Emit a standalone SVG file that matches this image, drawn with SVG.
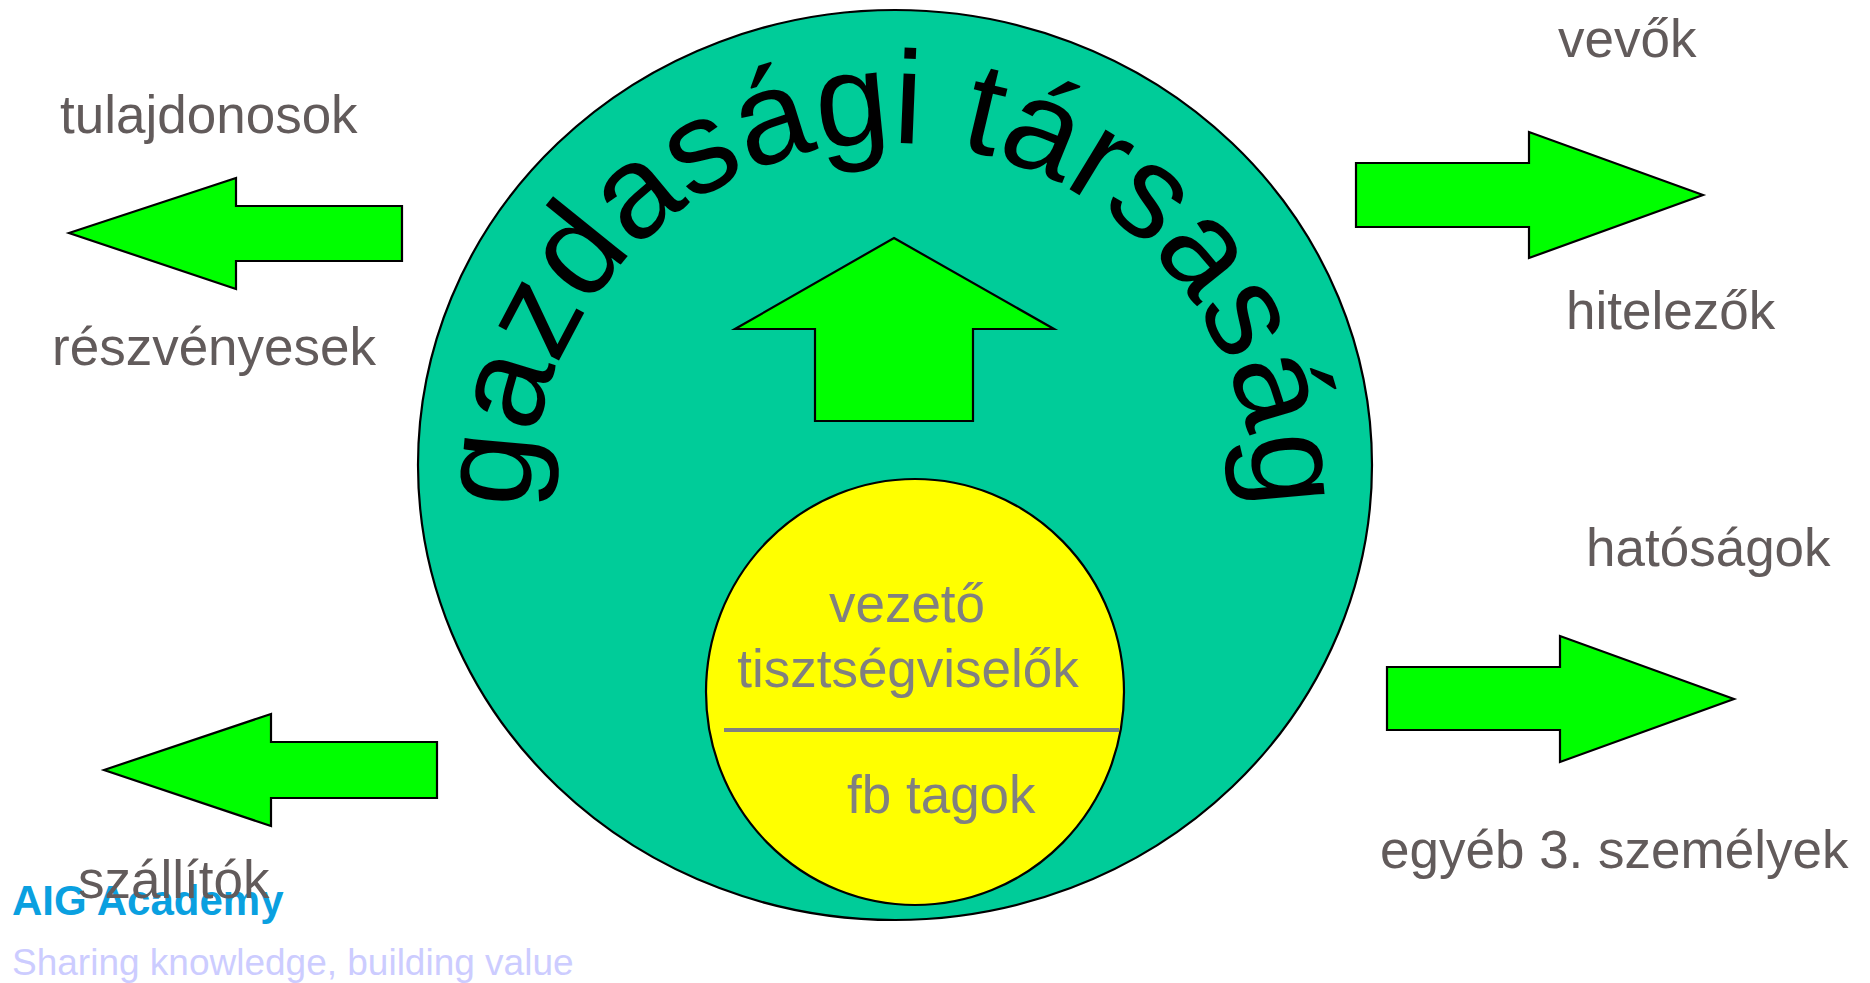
<svg xmlns="http://www.w3.org/2000/svg" xmlns:xlink="http://www.w3.org/1999/xlink" width="1870" height="983" viewBox="0 0 1870 983">
<style>
.lbl{font-family:"Liberation Sans",Arial,sans-serif;font-size:53px;fill:#625b5b}
.inner{font-family:"Liberation Sans",Arial,sans-serif;font-size:53px;fill:#808080}
.arrow{fill:#00ff00;stroke:#000;stroke-width:2.2;stroke-linejoin:miter}
.arc{font-family:"Liberation Sans",Arial,sans-serif;font-size:132px;fill:#000}
</style>
<defs>
<path id="arcPath" d="M530,505 A362,362 0 0 1 1254,505"/>
</defs>
<rect width="1870" height="983" fill="#fff"/>
<g id="company">
<ellipse cx="895" cy="465" rx="477" ry="455" fill="#00cc99" stroke="#000" stroke-width="2.2"/>
<text class="arc"><textPath xlink:href="#arcPath" href="#arcPath" startOffset="50%" text-anchor="middle">gazdasági társaság</textPath></text>
</g>
<g id="officers">
<ellipse cx="915" cy="692" rx="209" ry="213" fill="#ffff00" stroke="#000" stroke-width="2.2"/>
<line x1="724" y1="730" x2="1119" y2="730" stroke="#808080" stroke-width="4"/>
<text class="inner" x="907" y="622" text-anchor="middle">vezető</text>
<text class="inner" x="908" y="687" text-anchor="middle">tisztségviselők</text>
<text class="inner" x="847" y="813">fb tagok</text>
</g>
<g id="connectors">
<path id="arrow-up" class="arrow" d="M894,238 L1054,329 L973,329 L973,421 L815,421 L815,329 L735,329 Z"/>
<path id="arrow-owners" class="arrow" d="M69,233 L236,178 L236,206 L402,206 L402,261 L236,261 L236,289 Z"/>
<path id="arrow-suppliers" class="arrow" d="M104,770 L271,714 L271,742 L437,742 L437,798 L271,798 L271,826 Z"/>
<path id="arrow-buyers" class="arrow" d="M1703,195 L1529,132 L1529,163 L1356,163 L1356,227 L1529,227 L1529,258 Z"/>
<path id="arrow-authorities" class="arrow" d="M1734,699 L1560,636 L1560,667 L1387,667 L1387,730 L1560,730 L1560,762 Z"/>
</g>
<g id="owners">
<text class="lbl" x="60" y="133">tulajdonosok</text>
<text class="lbl" x="52" y="365">részvényesek</text>
</g>
<g id="buyers">
<text class="lbl" x="1558" y="57">vevők</text>
<text class="lbl" x="1566" y="329">hitelezők</text>
</g>
<g id="authorities">
<text class="lbl" x="1586" y="566">hatóságok</text>
<text class="lbl" x="1380" y="868">egyéb 3. személyek</text>
</g>
<g id="branding">
<text x="12" y="915" font-family="'Liberation Sans',Arial,sans-serif" font-size="42" font-weight="bold" fill="#0aa0e0">AIG Academy</text>
<text x="12" y="975" font-family="'Liberation Sans',Arial,sans-serif" font-size="37" fill="#ccccff">Sharing knowledge, building value</text>
</g>
<g id="suppliers">
<text class="lbl" x="78" y="898">szállítók</text>
</g>
</svg>
